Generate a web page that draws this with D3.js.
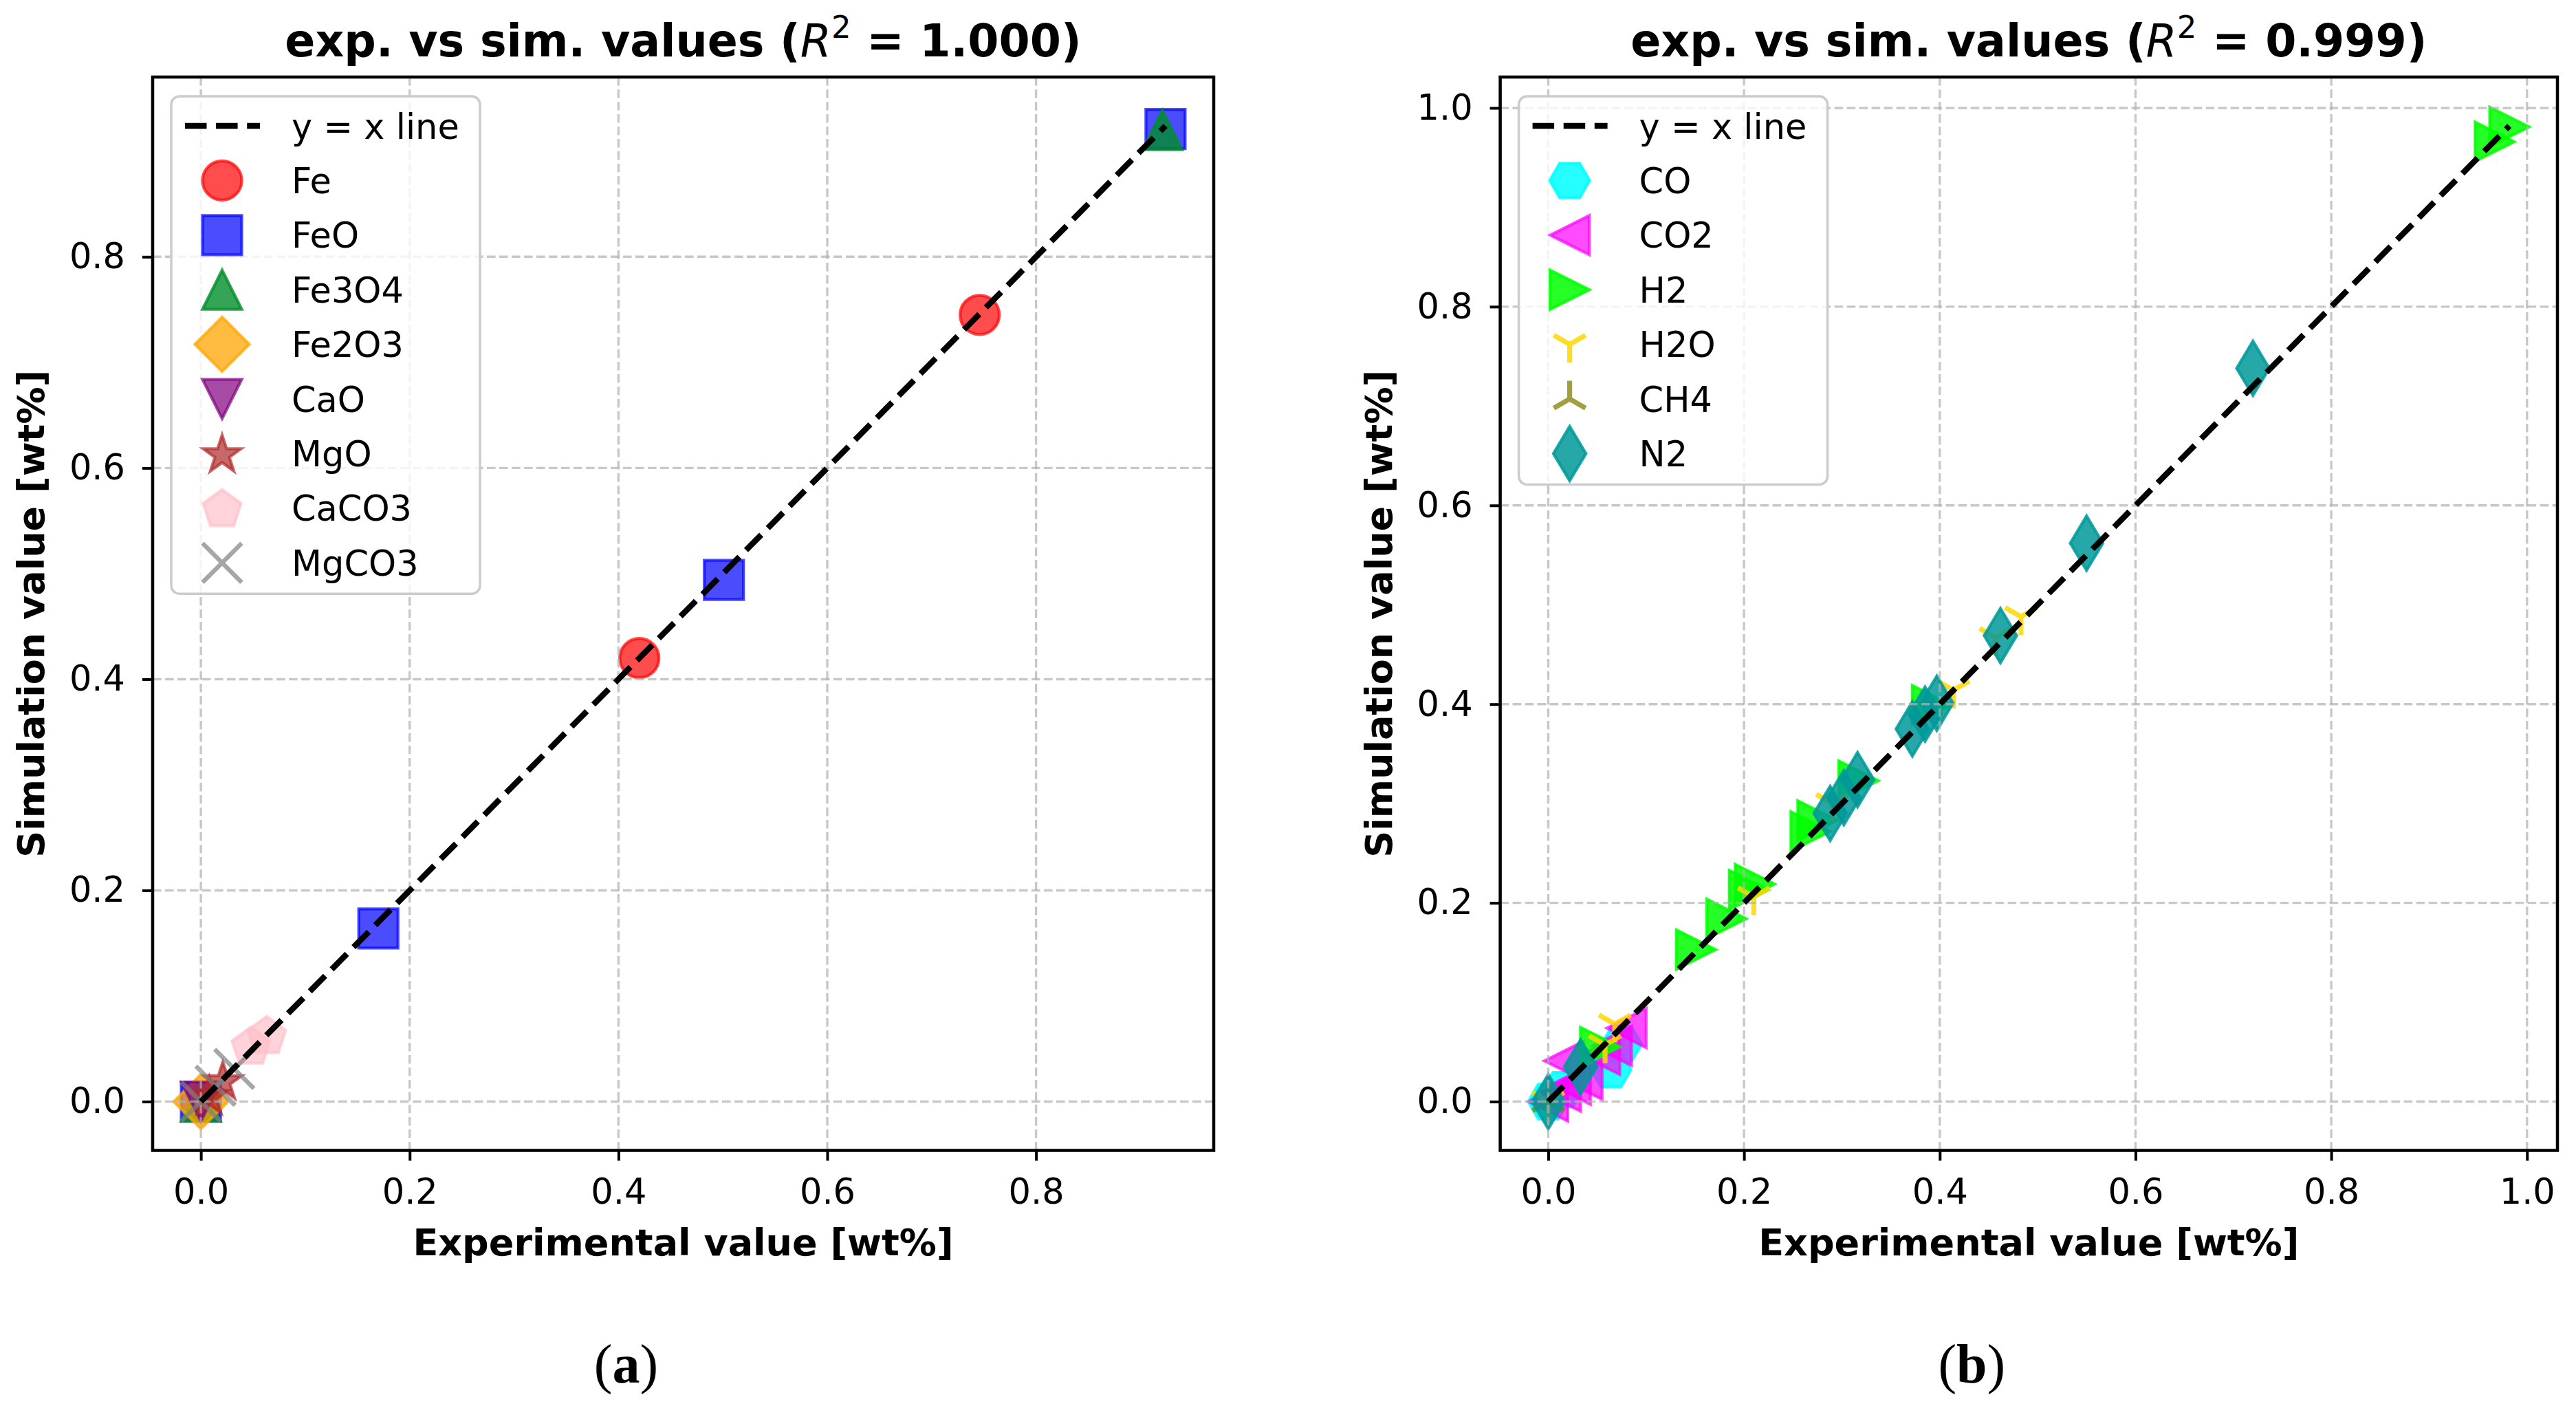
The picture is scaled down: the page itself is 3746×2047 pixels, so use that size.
<!DOCTYPE html>
<html><head><meta charset="utf-8">
<script src="https://cdn.jsdelivr.net/npm/d3@7/dist/d3.min.js"></script>
<style>body{margin:0;background:#fff}svg{display:block;background:#fff}</style>
</head><body>
<svg id="chart" width="3746" height="2047"></svg>
<script>
// ---------------- DATA ----------------
// Panel (a): solid phases, experimental vs simulated
const solidNames = ["Fe", "FeO", "Fe3O4", "Fe2O3", "CaO", "MgO", "CaCO3", "MgCO3"];
const feExp     = [0.420, 0.746];
const feSim     = [0.420, 0.745];
const feoExp    = [0.000, 0.170, 0.501, 0.924];
const feoSim    = [0.000, 0.164, 0.494, 0.921];
const fe3o4Exp  = [0.000, 0.921];
const fe3o4Sim  = [0.000, 0.920];
const fe2o3Exp  = [0.000];
const fe2o3Sim  = [0.000];
const caoExp    = [0.000];
const caoSim    = [0.000];
const mgoExp    = [0.008, 0.021];
const mgoSim    = [0.006, 0.020];
const caco3Exp  = [0.048, 0.063];
const caco3Sim  = [0.053, 0.063];
const mgco3Exp  = [0.000, 0.014, 0.032];
const mgco3Sim  = [0.000, 0.015, 0.031];

// Panel (b): gas species
const gasNames = ["CO", "CO2", "H2", "H2O", "CH4", "N2"];
const coExp   = [0.000, 0.015, 0.064, 0.075];
const coSim   = [0.000, 0.012, 0.032, 0.058];
const co2Exp  = [0.000, 0.013, 0.023, 0.035, 0.016, 0.053, 0.065, 0.080];
const co2Sim  = [0.000, 0.010, 0.017, 0.022, 0.041, 0.047, 0.056, 0.074];
const h2Exp   = [0.053, 0.151, 0.182, 0.205, 0.211, 0.268, 0.275, 0.317, 0.392, 0.967, 0.982];
const h2Sim   = [0.055, 0.153, 0.184, 0.213, 0.219, 0.272, 0.283, 0.323, 0.399, 0.966, 0.981];
const h2oExp  = [0.000, 0.058, 0.068, 0.210, 0.290, 0.414, 0.457, 0.483];
const h2oSim  = [0.000, 0.057, 0.078, 0.206, 0.300, 0.414, 0.467, 0.488];
const ch4Exp  = [0.000];
const ch4Sim  = [0.000];
const n2Exp   = [0.000, 0.033, 0.288, 0.302, 0.316, 0.372, 0.385, 0.397, 0.462, 0.550, 0.720];
const n2Sim   = [0.000, 0.035, 0.290, 0.306, 0.324, 0.375, 0.390, 0.401, 0.469, 0.562, 0.738];

const ticksA = [0.0, 0.2, 0.4, 0.6, 0.8];
const ticksB = [0.0, 0.2, 0.4, 0.6, 0.8, 1.0];
const r2Values = ["1.000", "0.999"];
const panelTags = ["a", "b"];
const lineLabel = "y = x line";
const xLabel = "Experimental value [wt%]";
const yLabel = "Simulation value [wt%]";

// ---------------- STYLE ----------------
const solidStyle = [
  {m: "o", c: "#ff0000", a: 0.7},
  {m: "s", c: "#0000ff", a: 0.7},
  {m: "^", c: "#008f2b", a: 0.8},
  {m: "D", c: "#ffa500", a: 0.75},
  {m: "v", c: "#800080", a: 0.7},
  {m: "*", c: "#b02a2a", a: 0.7},
  {m: "p", c: "#ffc0cb", a: 0.7},
  {m: "x", c: "#808080", a: 0.7}
];
const gasStyle = [
  {m: "H", c: "#00ffff", a: 0.85},
  {m: "<", c: "#ff00ff", a: 0.7},
  {m: ">", c: "#00ff00", a: 0.85},
  {m: "1", c: "#ffd700", a: 0.85},
  {m: "2", c: "#808000", a: 0.75},
  {m: "d", c: "#009999", a: 0.85}
];

const solidExp = [feExp, feoExp, fe3o4Exp, fe2o3Exp, caoExp, mgoExp, caco3Exp, mgco3Exp];
const solidSim = [feSim, feoSim, fe3o4Sim, fe2o3Sim, caoSim, mgoSim, caco3Sim, mgco3Sim];
const gasExp = [coExp, co2Exp, h2Exp, h2oExp, ch4Exp, n2Exp];
const gasSim = [coSim, co2Sim, h2Sim, h2oSim, ch4Sim, n2Sim];

function buildSeries(names, exps, sims, styles) {
  return names.map((n, i) => ({
    name: n, style: styles[i],
    pts: exps[i].map((v, j) => [v, sims[i][j]])
  }));
}

const panels = [
  {x0: 222, x1: 1765, y0: 112, y1: 1672.5, ticks: ticksA, r2: r2Values[0], tag: panelTags[0],
   series: buildSeries(solidNames, solidExp, solidSim, solidStyle)},
  {x0: 2181.6, x1: 3719, y0: 112, y1: 1672.5, ticks: ticksB, r2: r2Values[1], tag: panelTags[1],
   series: buildSeries(gasNames, gasExp, gasSim, gasStyle)}
];

// ---------------- MARKERS ----------------
const MS = 57;
function markerPath(m) {
  const p = d3.path();
  const h = MS / 2;
  const poly = pts => { pts.forEach((q, i) => i ? p.lineTo(q[0], q[1]) : p.moveTo(q[0], q[1])); p.closePath(); };
  switch (m) {
    case "o": p.arc(0, 0, h, 0, 2 * Math.PI); p.closePath(); break;
    case "s": p.rect(-h, -h, MS, MS); break;
    case "^": poly([[0, -h], [h, h], [-h, h]]); break;
    case "v": poly([[0, h], [h, -h], [-h, -h]]); break;
    case "<": poly([[-h, 0], [h, -h], [h, h]]); break;
    case ">": poly([[h, 0], [-h, -h], [-h, h]]); break;
    case "D": { const r = 39.5; poly([[0, -r], [r, 0], [0, r], [-r, 0]]); break; }
    case "d": { const r = 39.5, w = 23.7; poly([[0, -r], [w, 0], [0, r], [-w, 0]]); break; }
    case "*": {
      const R = 29, r = 29 * 0.381966, pts = [];
      for (let k = 0; k < 10; k++) {
        const ang = -Math.PI / 2 + k * Math.PI / 5, rr = k % 2 ? r : R;
        pts.push([rr * Math.cos(ang), rr * Math.sin(ang) + 2]);
      }
      poly(pts); break;
    }
    case "p": {
      const R = 29, pts = [];
      for (let k = 0; k < 5; k++) { const ang = -Math.PI / 2 + k * 2 * Math.PI / 5; pts.push([R * Math.cos(ang), R * Math.sin(ang) + 2]); }
      poly(pts); break;
    }
    case "H": {
      const R = 29, pts = [];
      for (let k = 0; k < 6; k++) { const ang = k * Math.PI / 3; pts.push([R * Math.cos(ang), R * Math.sin(ang)]); }
      poly(pts); break;
    }
    case "x": p.moveTo(-h, -h); p.lineTo(h, h); p.moveTo(-h, h); p.lineTo(h, -h); break;
    case "1": { const r = 26.6; p.moveTo(0, 0); p.lineTo(0, r); p.moveTo(0, 0); p.lineTo(0.866 * r, -0.5 * r); p.moveTo(0, 0); p.lineTo(-0.866 * r, -0.5 * r); break; }
    case "2": { const r = 26.6; p.moveTo(0, 0); p.lineTo(0, -r); p.moveTo(0, 0); p.lineTo(0.866 * r, 0.5 * r); p.moveTo(0, 0); p.lineTo(-0.866 * r, 0.5 * r); break; }
  }
  return p.toString();
}
const lineMarkers = new Set(["x", "1", "2"]);
function styleMarker(sel, st) {
  if (lineMarkers.has(st.m)) {
    sel.attr("fill", "none").attr("stroke", st.c).attr("stroke-opacity", st.a)
       .attr("stroke-width", st.m === "x" ? 6.4 : 7.2).attr("stroke-linecap", "butt");
  } else {
    sel.attr("fill", st.c).attr("fill-opacity", st.a).attr("stroke", st.c)
       .attr("stroke-opacity", st.a).attr("stroke-width", 4.25).attr("stroke-linejoin", "miter");
  }
}

// ---------------- DRAW ----------------
const svg = d3.select("#chart");
const FONT = "DejaVu Sans";

panels.forEach((P, pi) => {
  const all = P.series.flatMap(s => s.pts.flat());
  const lo = d3.min(all), hi = d3.max(all), pad = 0.05 * (hi - lo);
  const dom = [lo - pad, hi + pad];
  const x = d3.scaleLinear().domain(dom).range([P.x0, P.x1]);
  const y = d3.scaleLinear().domain(dom).range([P.y1, P.y0]);
  const g = svg.append("g");
  const clipId = "clip" + pi;
  g.append("clipPath").attr("id", clipId).append("rect")
    .attr("x", P.x0).attr("y", P.y0).attr("width", P.x1 - P.x0).attr("height", P.y1 - P.y0);

  // scatter markers
  const mg = g.append("g").attr("clip-path", `url(#${clipId})`);
  P.series.forEach(s => {
    const sel = mg.append("g").selectAll("path").data(s.pts).join("path")
      .attr("d", markerPath(s.style.m))
      .attr("transform", d => `translate(${x(d[0])},${y(d[1])})`);
    styleMarker(sel, s.style);
  });

  // grid (above markers, as matplotlib default)
  const gg = g.append("g").attr("clip-path", `url(#${clipId})`)
    .attr("stroke", "#b0b0b0").attr("stroke-opacity", 0.7).attr("stroke-width", 3.4)
    .attr("stroke-dasharray", "12.6,5.4");
  gg.selectAll("line.v").data(P.ticks).join("line").attr("class", "v")
    .attr("x1", d => x(d)).attr("x2", d => x(d)).attr("y1", P.y0).attr("y2", P.y1);
  gg.selectAll("line.h").data(P.ticks).join("line").attr("class", "h")
    .attr("y1", d => y(d)).attr("y2", d => y(d)).attr("x1", P.x0).attr("x2", P.x1);

  // y = x line
  g.append("line")
    .attr("x1", x(lo)).attr("y1", y(lo)).attr("x2", x(hi)).attr("y2", y(hi))
    .attr("stroke", "#000").attr("stroke-width", 8.5).attr("stroke-dasharray", "31.5,13.6");

  // frame
  g.append("rect").attr("x", P.x0).attr("y", P.y0).attr("width", P.x1 - P.x0).attr("height", P.y1 - P.y0)
    .attr("fill", "none").attr("stroke", "#000").attr("stroke-width", 4.5);

  // axes
  const fmt = d3.format(".1f");
  const ax = g.append("g").attr("transform", `translate(0,${P.y1})`)
    .call(d3.axisBottom(x).tickValues(P.ticks).tickFormat(fmt).tickSize(15).tickSizeOuter(0).tickPadding(26));
  const ay = g.append("g").attr("transform", `translate(${P.x0},0)`)
    .call(d3.axisLeft(y).tickValues(P.ticks).tickFormat(fmt).tickSize(15).tickSizeOuter(0).tickPadding(25));
  [ax, ay].forEach(a => {
    a.select(".domain").remove();
    a.selectAll(".tick line").attr("stroke", "#000").attr("stroke-width", 4);
    a.selectAll(".tick text").attr("fill", "#000").style("font-family", FONT).style("font-size", "51px");
  });

  const cx = (P.x0 + P.x1) / 2, cy = (P.y0 + P.y1) / 2;
  // axis labels
  g.append("text").attr("x", cx).attr("y", 1825).attr("text-anchor", "middle")
    .style("font-family", FONT).style("font-size", "54px").style("font-weight", "bold").text(xLabel);
  g.append("text").attr("transform", `translate(${P.x0 - 158},${cy}) rotate(-90)`).attr("text-anchor", "middle")
    .style("font-family", FONT).style("font-size", "54px").style("font-weight", "bold").text(yLabel);

  // title
  const t = g.append("text").attr("x", cx).attr("y", 82).attr("text-anchor", "middle")
    .style("font-family", FONT).style("font-size", "65px").style("font-weight", "bold");
  t.append("tspan").text("exp. vs sim. values (");
  t.append("tspan").style("font-style", "italic").style("font-weight", "normal").text("R");
  t.append("tspan").style("font-size", "45px").style("font-weight", "normal").attr("dy", -27).text("2");
  t.append("tspan").attr("dy", 27).text(" = " + P.r2 + ")");

  // caption
  const cap = g.append("text").attr("x", cx - 83).attr("y", 2010).attr("text-anchor", "middle")
    .style("font-family", "Liberation Serif").style("font-size", "80px");
  cap.append("tspan").text("(");
  cap.append("tspan").style("font-weight", "bold").text(P.tag);
  cap.append("tspan").text(")");

  // legend
  const rows = P.series.length + 1, rowH = 79.4;
  const lx = P.x0 + 27, ly = P.y0 + 28;
  const lh = 43 + (rows - 1) * rowH + 45;
  const lg = g.append("g");
  lg.append("rect").attr("x", lx).attr("y", ly).attr("width", 449).attr("height", lh)
    .attr("rx", 12).attr("fill", "#fff").attr("fill-opacity", 0.8)
    .attr("stroke", "#cccccc").attr("stroke-width", 3.5);
  const rowY = i => ly + 43 + i * rowH;
  lg.append("line").attr("x1", lx + 20).attr("x2", lx + 129).attr("y1", rowY(0)).attr("y2", rowY(0))
    .attr("stroke", "#000").attr("stroke-width", 8.5).attr("stroke-dasharray", "31.5,13.6");
  const labels = [lineLabel].concat(P.series.map(s => s.name));
  lg.selectAll("text").data(labels).join("text")
    .attr("x", lx + 175).attr("y", (d, i) => rowY(i) + 18.5)
    .style("font-family", FONT).style("font-size", "51px").attr("fill", "#000").text(d => d);
  P.series.forEach((s, i) => {
    const sel = lg.append("path").attr("d", markerPath(s.style.m))
      .attr("transform", `translate(${lx + 74},${rowY(i + 1)})`);
    styleMarker(sel, s.style);
  });
});
</script>
</body></html>
